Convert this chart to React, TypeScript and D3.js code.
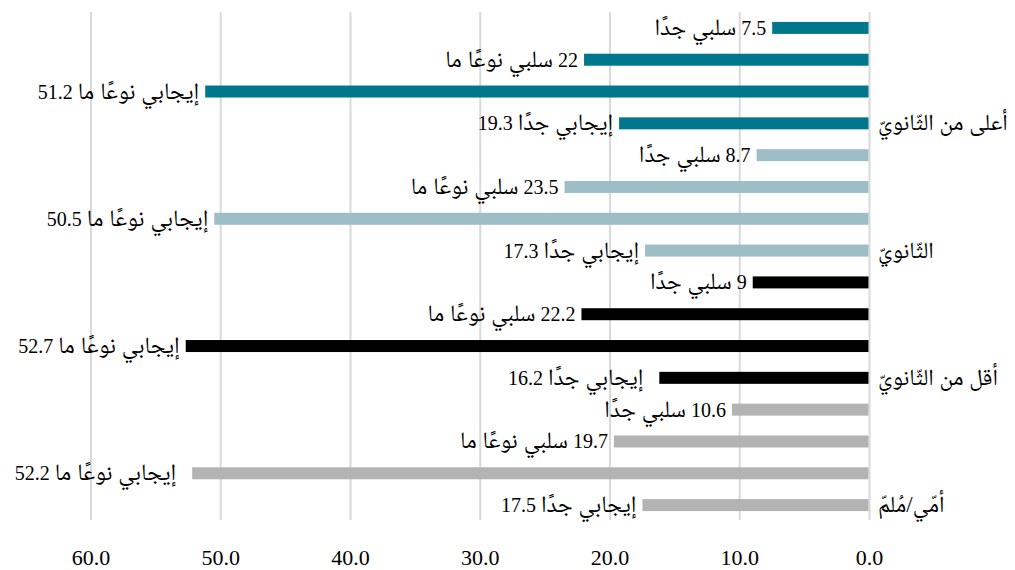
import React from "react";
import * as d3 from "d3";

// Education levels (each group of four bars) and the response scale
const categories = ["أعلى من الثّانويّ", "الثّانويّ", "أقل من الثّانويّ", "أمّي/مُلمّ"];
const responses = ["سلبي جدًا", "سلبي نوعًا ما", "إيجابي نوعًا ما", "إيجابي جدًا"];

// Percentages per education level, in response order
const higherValues = [7.5, 22, 51.2, 19.3];
const secondaryValues = [8.7, 23.5, 50.5, 17.3];
const belowSecondaryValues = [9, 22.2, 52.7, 16.2];
const illiterateValues = [10.6, 19.7, 52.2, 17.5];

const groupColors = ["#00778D", "#9EBEC7", "#000000", "#B3B3B3"];
const ticks = [0, 10, 20, 30, 40, 50, 60];

const WIDTH = 1015;
const HEIGHT = 570;

type Row = { key: string; group: number; resp: number; value: number };

const groups = [higherValues, secondaryValues, belowSecondaryValues, illiterateValues];
const rows: Row[] = groups.flatMap((vals, g) =>
  vals.map((v, r) => ({ key: `${g}-${r}`, group: g, resp: r, value: v }))
);

// Extra leading padding used by a couple of labels
const labelPad: Record<string, string> = { "2-3": "\u00A0\u00A0", "3-2": "\u00A0\u00A0" };

const NUM_SIZE = 20;
const AR_SIZE = 23.5;

function Label({ row }: { row: Row }) {
  const name = <tspan fontSize={AR_SIZE}>{responses[row.resp]}</tspan>;
  const num = <tspan fontSize={NUM_SIZE}>{String(row.value)}</tspan>;
  const pad = labelPad[row.key] ?? "";
  // right-to-left paragraph: the first logical run sits next to the bar
  return row.resp < 2 ? (
    <>
      {pad}
      {num}
      {" "}
      {name}
    </>
  ) : (
    <>
      {pad}
      {name}
      {" "}
      {num}
    </>
  );
}

export default function App() {
  const x = d3.scaleLinear().domain([0, 60]).range([869.5, 91]);
  const y = d3
    .scaleBand<string>()
    .domain(rows.map((r) => r.key))
    .range([12, 521])
    .paddingInner(0.623)
    .paddingOuter(0.3115);
  const bw = y.bandwidth();
  const serif =
    "'Liberation Serif', 'Noto Naskh Arabic', 'Noto Serif Arabic', 'Noto Sans Arabic', 'DejaVu Serif', serif";

  return (
    <svg
      width={WIDTH}
      height={HEIGHT}
      style={{ position: "absolute", left: 0, top: 0, background: "#fff" }}
    >
      <g>
        {ticks.map((t) => (
          <line
            key={t}
            x1={x(t)}
            x2={x(t)}
            y1={12}
            y2={520}
            stroke="#D9D9D9"
            strokeWidth={2}
          />
        ))}
      </g>
      <g>
        {rows.map((r) => (
          <rect
            key={r.key}
            x={x(r.value)}
            y={y(r.key)}
            width={x(0) - 1 - x(r.value)}
            height={bw}
            fill={groupColors[r.group]}
          />
        ))}
      </g>
      <g fontFamily={serif} fontSize={NUM_SIZE} fill="#000">
        {rows.map((r) => (
          <text
            key={r.key}
            x={x(r.value) - 6}
            y={(y(r.key) ?? 0) + bw / 2 + 7}
            direction="rtl"
            textAnchor="start"
            style={{ direction: "rtl", unicodeBidi: "embed" }}
          >
            <Label row={r} />
          </text>
        ))}
      </g>
      <g fontFamily={serif} fontSize={23} fill="#000">
        {categories.map((c, g) => {
          const key = `${g}-3`;
          return (
            <text key={c} x={878} y={(y(key) ?? 0) + bw / 2 + 7} textAnchor="start">
              {c}
            </text>
          );
        })}
      </g>
      <g fontFamily={serif} fontSize={22} fill="#000">
        {ticks.map((t) => (
          <text key={t} x={x(t)} y={565} textAnchor="middle">
            {d3.format(".1f")(t)}
          </text>
        ))}
      </g>
    </svg>
  );
}
